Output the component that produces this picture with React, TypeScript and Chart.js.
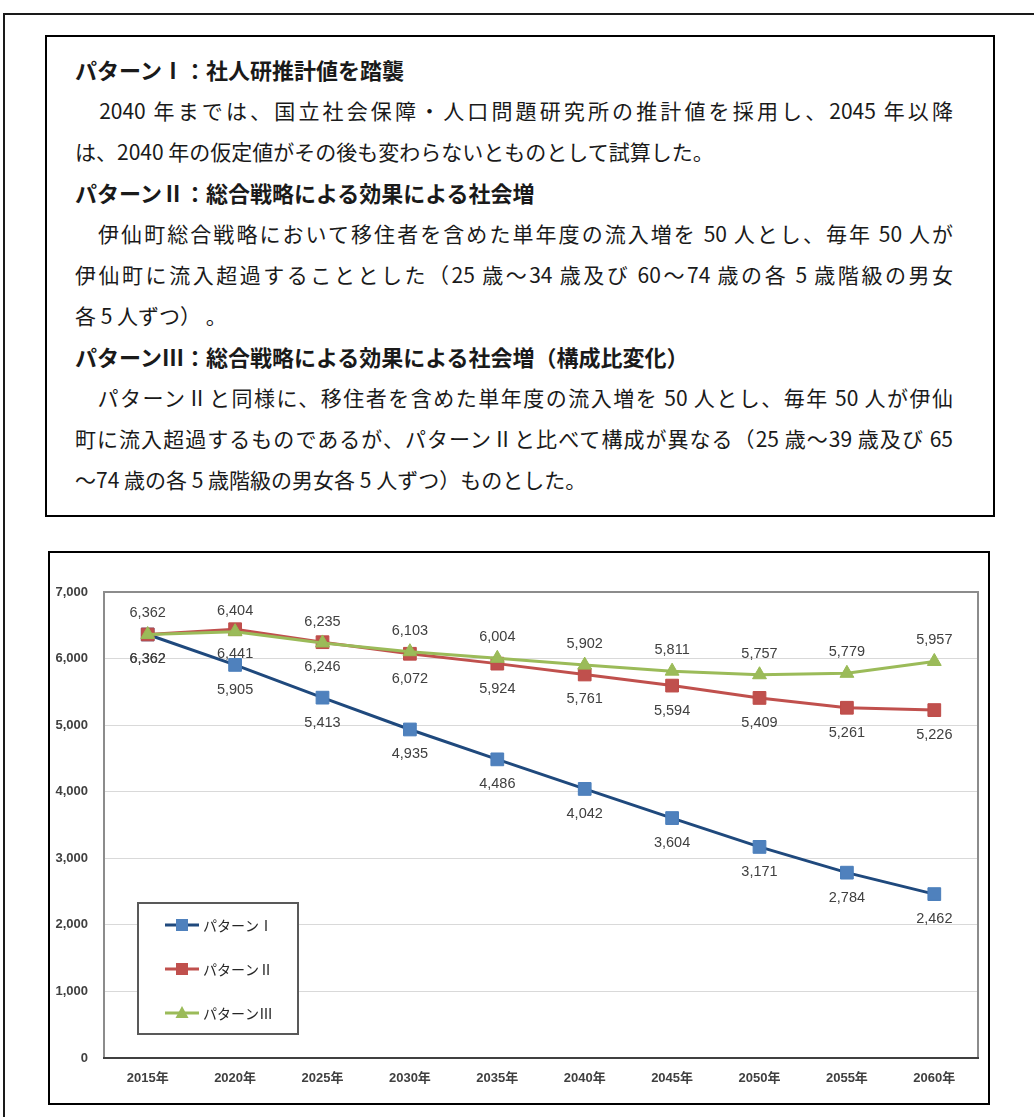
import React, { useEffect, useRef } from "react";
import { Chart, registerables } from "chart.js";

Chart.register(...registerables);

// ---- data ----
const categories = ["2015年", "2020年", "2025年", "2030年", "2035年", "2040年", "2045年", "2050年", "2055年", "2060年"];
const seriesNames = ["パターンⅠ", "パターンⅡ", "パターンⅢ"];
const pattern1 = [6362, 5905, 5413, 4935, 4486, 4042, 3604, 3171, 2784, 2462];
const pattern2 = [6362, 6441, 6246, 6072, 5924, 5761, 5594, 5409, 5261, 5226];
const pattern3 = [6362, 6404, 6235, 6103, 6004, 5902, 5811, 5757, 5779, 5957];
const yMin = 0;
const yMax = 7000;
const yStep = 1000;

// ---- description text ----
type Line = { text: string; bold?: boolean; justify?: boolean };
const textLines: Line[] = [
  { text: "パターンⅠ：社人研推計値を踏襲", bold: true },
  { text: "　2040 年までは、国立社会保障・人口問題研究所の推計値を採用し、2045 年以降", justify: true },
  { text: "は、2040 年の仮定値がその後も変わらないとものとして試算した。" },
  { text: "パターンⅡ：総合戦略による効果による社会増", bold: true },
  { text: "　伊仙町総合戦略において移住者を含めた単年度の流入増を 50 人とし、毎年 50 人が", justify: true },
  { text: "伊仙町に流入超過することとした（25 歳～34 歳及び 60～74 歳の各 5 歳階級の男女", justify: true },
  { text: "各 5 人ずつ） 。" },
  { text: "パターンⅢ：総合戦略による効果による社会増（構成比変化）", bold: true },
  { text: "　パターンⅡと同様に、移住者を含めた単年度の流入増を 50 人とし、毎年 50 人が伊仙", justify: true },
  { text: "町に流入超過するものであるが、パターンⅡと比べて構成が異なる（25 歳～39 歳及び 65", justify: true },
  { text: "～74 歳の各 5 歳階級の男女各 5 人ずつ）ものとした。" },
];

const fmt = (v: number) => v.toLocaleString("en-US");

const labelOffsets = [25, 25, -21]; // per dataset: below / below / above

const plotFramePlugin = {
  id: "plotFrame",
  beforeDatasetsDraw(chart: any) {
    const { ctx, chartArea: a } = chart;
    ctx.save();
    ctx.strokeStyle = "#8c8c8c";
    ctx.lineWidth = 2;
    ctx.beginPath();
    ctx.moveTo(a.left, a.bottom);
    ctx.lineTo(a.left, a.top);
    ctx.lineTo(a.right, a.top);
    ctx.lineTo(a.right, a.bottom);
    ctx.stroke();
    ctx.strokeStyle = "#404040";
    ctx.beginPath();
    ctx.moveTo(a.left - 1, a.bottom);
    ctx.lineTo(a.right + 1, a.bottom);
    ctx.stroke();
    ctx.restore();
  },
};

const dataLabelPlugin = {
  id: "dataLabels",
  afterDatasetsDraw(chart: any) {
    const { ctx } = chart;
    ctx.save();
    ctx.font = '14.5px "Liberation Sans", Arial, sans-serif';
    ctx.fillStyle = "#404040";
    ctx.textAlign = "center";
    ctx.textBaseline = "middle";
    chart.data.datasets.forEach((ds: any, i: number) => {
      const meta = chart.getDatasetMeta(i);
      meta.data.forEach((pt: any, j: number) => {
        ctx.fillText(fmt(ds.data[j]), pt.x, pt.y + labelOffsets[i]);
      });
    });
    ctx.restore();
  },
};

const boxLegendPlugin = {
  id: "boxLegend",
  afterDraw(chart: any) {
    const { ctx, chartArea: a } = chart;
    const bx = a.left + 34;
    const by = a.top + 311;
    const bw = 160;
    const bh = 131;
    ctx.save();
    ctx.fillStyle = "#ffffff";
    ctx.fillRect(bx, by, bw, bh);
    ctx.strokeStyle = "#595959";
    ctx.lineWidth = 2;
    ctx.strokeRect(bx, by, bw, bh);
    chart.data.datasets.forEach((ds: any, i: number) => {
      const y = by + 22 + i * 44;
      ctx.strokeStyle = ds.borderColor;
      ctx.lineWidth = 3;
      ctx.beginPath();
      ctx.moveTo(bx + 27, y);
      ctx.lineTo(bx + 61, y);
      ctx.stroke();
      const cx = bx + 44;
      ctx.fillStyle = ds.pointBackgroundColor;
      if (ds.pointStyle === "triangle") {
        ctx.beginPath();
        ctx.moveTo(cx, y - 7);
        ctx.lineTo(cx + 6.5, y + 5);
        ctx.lineTo(cx - 6.5, y + 5);
        ctx.closePath();
        ctx.fill();
      } else {
        ctx.fillRect(cx - 6, y - 6, 12, 12);
      }
      ctx.fillStyle = "#262626";
      ctx.font = '14px "Noto Sans CJK JP", sans-serif';
      ctx.textAlign = "left";
      ctx.textBaseline = "middle";
      ctx.fillText(ds.label, bx + 65, y + 1);
    });
    ctx.restore();
  },
};

function PopulationChart() {
  const ref = useRef<HTMLCanvasElement | null>(null);
  useEffect(() => {
    if (!ref.current) return;
    const yTickValues: number[] = [];
    for (let v = yMin; v <= yMax; v += yStep) yTickValues.push(v);
    const chart = new Chart(ref.current, {
      type: "line",
      data: {
        labels: categories,
        datasets: [
          {
            label: seriesNames[0],
            data: pattern1,
            borderColor: "#1F497D",
            borderWidth: 3,
            pointStyle: "rect",
            pointRadius: 9,
            pointBackgroundColor: "#4F81BD",
            pointBorderColor: "#4A7EBB",
            pointBorderWidth: 1,
            order: 2,
          },
          {
            label: seriesNames[1],
            data: pattern2,
            borderColor: "#C0504D",
            borderWidth: 3,
            pointStyle: "rect",
            pointRadius: 9,
            pointBackgroundColor: "#C0504D",
            pointBorderColor: "#BE4B48",
            pointBorderWidth: 1,
            order: 1,
          },
          {
            label: seriesNames[2],
            data: pattern3,
            borderColor: "#9BBB59",
            borderWidth: 3,
            pointStyle: "triangle",
            pointRadius: 8,
            pointBackgroundColor: "#9BBB59",
            pointBorderColor: "#98B954",
            pointBorderWidth: 1,
            order: 0,
          },
        ] as any,
      },
      options: {
        animation: false,
        responsive: false,
        maintainAspectRatio: false,
        layout: { padding: { top: 39, right: 7, left: 0, bottom: 0 } },
        plugins: { legend: { display: false }, tooltip: { enabled: false } },
        scales: {
          x: {
            offset: true,
            grid: { display: false, drawTicks: false },
            border: { display: false },
            ticks: {
              padding: 13,
              color: "#404040",
              font: { family: '"Liberation Sans", "Noto Sans CJK JP", sans-serif', size: 13, weight: "bold" },
              maxRotation: 0,
              autoSkip: false,
            },
            afterFit: (s: any) => {
              s.height = 45;
            },
          },
          y: {
            min: yMin,
            max: yMax,
            afterBuildTicks: (s: any) => {
              s.ticks = yTickValues.map((v) => ({ value: v }));
            },
            grid: { color: "#d9d9d9", lineWidth: 1, drawTicks: false },
            border: { display: false },
            ticks: {
              padding: 16,
              color: "#404040",
              font: { family: '"Liberation Sans", sans-serif', size: 13, weight: "bold" },
              callback: (v: any) => fmt(Number(v)),
            },
            afterFit: (s: any) => {
              s.width = 54;
            },
          },
        },
      } as any,
      plugins: [plotFramePlugin, dataLabelPlugin, boxLegendPlugin],
    });
    return () => chart.destroy();
  }, []);
  return <canvas ref={ref} width={938} height={550} style={{ display: "block", width: 938, height: 550 }} />;
}

export default function App() {
  return (
    <div
      style={{
        position: "fixed",
        left: 0,
        top: 0,
        width: 1034,
        height: 1117,
        overflow: "hidden",
        background: "#ffffff",
      }}
    >
      {/* outer frame */}
      <div
        style={{
          position: "absolute",
          left: 3,
          top: 13,
          width: 1031,
          height: 1104,
          borderTop: "2px solid #1a1a1a",
          borderLeft: "2px solid #1a1a1a",
          boxSizing: "border-box",
        }}
      />
      {/* description box */}
      <div
        lang="ja"
        style={{
          position: "absolute",
          left: 45,
          top: 35,
          width: 950,
          height: 482,
          border: "2px solid #000",
          boxSizing: "border-box",
          paddingTop: 12,
          paddingLeft: 28,
          fontFamily: '"Noto Sans CJK JP", sans-serif',
          fontSize: 21,
          lineHeight: "41px",
          color: "#1a1a1a",
        }}
      >
        {textLines.map((ln, i) => (
          <div
            key={i}
            style={{
              width: 878,
              whiteSpace: ln.justify ? "normal" : "nowrap",
              fontWeight: ln.bold ? 700 : 400,
              fontSize: ln.bold ? 22 : 21,
              textAlign: ln.justify ? "justify" : "left",
              textAlignLast: ln.justify ? "justify" : "left",
            }}
          >
            {ln.text}
          </div>
        ))}
      </div>
      {/* chart box */}
      <div
        style={{
          position: "absolute",
          left: 48,
          top: 551,
          width: 942,
          height: 554,
          border: "2px solid #000",
          boxSizing: "border-box",
        }}
      >
        <PopulationChart />
      </div>
    </div>
  );
}
